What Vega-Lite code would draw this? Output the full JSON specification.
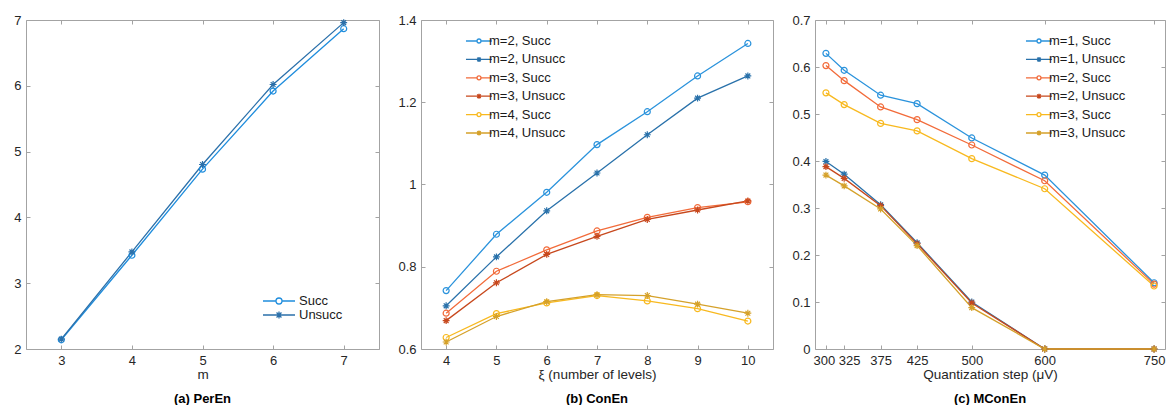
{
  "$schema": "https://vega.github.io/schema/vega-lite/v6.json",
  "background": "white",
  "padding": {"left": 13, "top": 13, "right": 0, "bottom": 0},
  "spacing": 42,
  "bounds": "flush",
  "resolve": {"scale": {"color": "independent"}, "legend": {"color": "independent"}},
  "config": {
    "font": "Liberation Sans",
    "view": {"stroke": "#a3a3a3", "strokeWidth": 1},
    "axis": {"domain": false, "grid": false, "ticks": true, "tickSize": -4, "tickColor": "#a3a3a3", "tickWidth": 1,
      "labelFontSize": 13, "labelColor": "#262626", "labelFont": "Liberation Sans", "labelFlush": false, "labelOverlap": false, "labelBound": false,
      "labelExpr": "'' + datum.value",
      "titleFontSize": 13.5, "titleColor": "#262626", "titleFontWeight": "normal", "titleFont": "Liberation Sans"},
    "axisX": {"labelPadding": 9, "titlePadding": 0},
    "axisY": {"labelPadding": 9},
    "legend": {"labelFontSize": 13, "labelColor": "#1a1a1a", "labelFont": "Liberation Sans", "symbolSize": 144, "symbolStrokeWidth": 1.3, "padding": 0, "labelOffset": 3, "rowPadding": 4.4},
    "title": {"fontSize": 13, "fontWeight": "bold", "color": "#000000", "font": "Liberation Sans", "offset": 12}
  },
  "datasets": {
    "a": [
      {"series": "Succ", "x": 3, "y": 2.14}, {"series": "Succ", "x": 4, "y": 3.425}, {"series": "Succ", "x": 5, "y": 4.733}, {"series": "Succ", "x": 6, "y": 5.92}, {"series": "Succ", "x": 7, "y": 6.868},
      {"series": "Unsucc", "x": 3, "y": 2.15}, {"series": "Unsucc", "x": 4, "y": 3.476}, {"series": "Unsucc", "x": 5, "y": 4.804}, {"series": "Unsucc", "x": 6, "y": 6.02}, {"series": "Unsucc", "x": 7, "y": 6.96}
    ],
    "b": [
      {"series": "m=2, Succ", "x": 4, "y": 0.742}, {"series": "m=2, Succ", "x": 5, "y": 0.879}, {"series": "m=2, Succ", "x": 6, "y": 0.981}, {"series": "m=2, Succ", "x": 7, "y": 1.097}, {"series": "m=2, Succ", "x": 8, "y": 1.177}, {"series": "m=2, Succ", "x": 9, "y": 1.264}, {"series": "m=2, Succ", "x": 10, "y": 1.343},
      {"series": "m=2, Unsucc", "x": 4, "y": 0.705}, {"series": "m=2, Unsucc", "x": 5, "y": 0.824}, {"series": "m=2, Unsucc", "x": 6, "y": 0.936}, {"series": "m=2, Unsucc", "x": 7, "y": 1.028}, {"series": "m=2, Unsucc", "x": 8, "y": 1.121}, {"series": "m=2, Unsucc", "x": 9, "y": 1.21}, {"series": "m=2, Unsucc", "x": 10, "y": 1.264},
      {"series": "m=3, Succ", "x": 4, "y": 0.687}, {"series": "m=3, Succ", "x": 5, "y": 0.789}, {"series": "m=3, Succ", "x": 6, "y": 0.841}, {"series": "m=3, Succ", "x": 7, "y": 0.887}, {"series": "m=3, Succ", "x": 8, "y": 0.92}, {"series": "m=3, Succ", "x": 9, "y": 0.944}, {"series": "m=3, Succ", "x": 10, "y": 0.958},
      {"series": "m=3, Unsucc", "x": 4, "y": 0.669}, {"series": "m=3, Unsucc", "x": 5, "y": 0.761}, {"series": "m=3, Unsucc", "x": 6, "y": 0.83}, {"series": "m=3, Unsucc", "x": 7, "y": 0.874}, {"series": "m=3, Unsucc", "x": 8, "y": 0.915}, {"series": "m=3, Unsucc", "x": 9, "y": 0.938}, {"series": "m=3, Unsucc", "x": 10, "y": 0.96},
      {"series": "m=4, Succ", "x": 4, "y": 0.628}, {"series": "m=4, Succ", "x": 5, "y": 0.686}, {"series": "m=4, Succ", "x": 6, "y": 0.712}, {"series": "m=4, Succ", "x": 7, "y": 0.73}, {"series": "m=4, Succ", "x": 8, "y": 0.717}, {"series": "m=4, Succ", "x": 9, "y": 0.698}, {"series": "m=4, Succ", "x": 10, "y": 0.668},
      {"series": "m=4, Unsucc", "x": 4, "y": 0.617}, {"series": "m=4, Unsucc", "x": 5, "y": 0.679}, {"series": "m=4, Unsucc", "x": 6, "y": 0.715}, {"series": "m=4, Unsucc", "x": 7, "y": 0.732}, {"series": "m=4, Unsucc", "x": 8, "y": 0.73}, {"series": "m=4, Unsucc", "x": 9, "y": 0.709}, {"series": "m=4, Unsucc", "x": 10, "y": 0.687}
    ],
    "c": [
      {"series": "m=1, Succ", "x": 300, "y": 0.629}, {"series": "m=1, Succ", "x": 325, "y": 0.593}, {"series": "m=1, Succ", "x": 375, "y": 0.54}, {"series": "m=1, Succ", "x": 425, "y": 0.522}, {"series": "m=1, Succ", "x": 500, "y": 0.449}, {"series": "m=1, Succ", "x": 600, "y": 0.37}, {"series": "m=1, Succ", "x": 750, "y": 0.141},
      {"series": "m=1, Unsucc", "x": 300, "y": 0.399}, {"series": "m=1, Unsucc", "x": 325, "y": 0.372}, {"series": "m=1, Unsucc", "x": 375, "y": 0.307}, {"series": "m=1, Unsucc", "x": 425, "y": 0.226}, {"series": "m=1, Unsucc", "x": 500, "y": 0.1}, {"series": "m=1, Unsucc", "x": 600, "y": 0}, {"series": "m=1, Unsucc", "x": 750, "y": 0},
      {"series": "m=2, Succ", "x": 300, "y": 0.603}, {"series": "m=2, Succ", "x": 325, "y": 0.571}, {"series": "m=2, Succ", "x": 375, "y": 0.515}, {"series": "m=2, Succ", "x": 425, "y": 0.488}, {"series": "m=2, Succ", "x": 500, "y": 0.434}, {"series": "m=2, Succ", "x": 600, "y": 0.358}, {"series": "m=2, Succ", "x": 750, "y": 0.138},
      {"series": "m=2, Unsucc", "x": 300, "y": 0.388}, {"series": "m=2, Unsucc", "x": 325, "y": 0.363}, {"series": "m=2, Unsucc", "x": 375, "y": 0.305}, {"series": "m=2, Unsucc", "x": 425, "y": 0.224}, {"series": "m=2, Unsucc", "x": 500, "y": 0.098}, {"series": "m=2, Unsucc", "x": 600, "y": 0}, {"series": "m=2, Unsucc", "x": 750, "y": 0},
      {"series": "m=3, Succ", "x": 300, "y": 0.545}, {"series": "m=3, Succ", "x": 325, "y": 0.52}, {"series": "m=3, Succ", "x": 375, "y": 0.48}, {"series": "m=3, Succ", "x": 425, "y": 0.464}, {"series": "m=3, Succ", "x": 500, "y": 0.405}, {"series": "m=3, Succ", "x": 600, "y": 0.341}, {"series": "m=3, Succ", "x": 750, "y": 0.134},
      {"series": "m=3, Unsucc", "x": 300, "y": 0.37}, {"series": "m=3, Unsucc", "x": 325, "y": 0.347}, {"series": "m=3, Unsucc", "x": 375, "y": 0.298}, {"series": "m=3, Unsucc", "x": 425, "y": 0.22}, {"series": "m=3, Unsucc", "x": 500, "y": 0.088}, {"series": "m=3, Unsucc", "x": 600, "y": 0}, {"series": "m=3, Unsucc", "x": 750, "y": 0}
    ]
  },
  "hconcat": [
    {
      "width": 353, "height": 329,
      "data": {"name": "a"},
      "title": {"text": "(a) PerEn", "orient": "bottom"},
      "resolve": {"axis": {"x": "independent", "y": "independent"}},
      "layer": [
        {
          "mark": {"type": "line", "strokeWidth": 1.3},
          "encoding": {
            "x": {"field": "x", "type": "quantitative", "scale": {"domain": [2.5, 7.5], "nice": false, "zero": false}, "axis": {"values": [3, 4, 5, 6, 7], "title": "m", "orient": "bottom"}},
            "y": {"field": "y", "type": "quantitative", "scale": {"domain": [2, 7], "nice": false, "zero": false}, "axis": {"values": [2, 3, 4, 5, 6, 7], "title": null, "orient": "left"}},
            "color": {"field": "series", "type": "nominal", "scale": {"domain": ["Succ", "Unsucc"], "range": ["#1f8ddd", "#2b70aa"]},
              "legend": {"title": null, "orient": "none", "legendX": 246, "legendY": 274, "rowPadding": -0.6, "labelOffset": 13,
                "encode": {"symbols": {"update": {"fill": {"value": "transparent"}, "shape": {"signal": "indexof(datum.value, 'Unsucc') >= 0 ? 'M-2.67,0H2.67M0,-0.58V0.58M-0.41,-0.41L0.41,0.41M-0.41,0.41L0.41,-0.41' : 'M-2.67,0H-0.5M0.5,0H2.67M0.5,0A0.5,0.5,0,1,1,-0.5,0A0.5,0.5,0,1,1,0.5,0'"}}}}}}
          }
        },
        {
          "transform": [{"filter": "indexof(datum.series, 'Unsucc') < 0"}],
          "mark": {"type": "point", "shape": "circle", "filled": false, "size": 36, "strokeWidth": 1.2, "opacity": 1},
          "encoding": {
            "x": {"field": "x", "type": "quantitative", "axis": {"values": [3, 4, 5, 6, 7], "title": null, "labels": false, "orient": "top"}},
            "y": {"field": "y", "type": "quantitative", "axis": {"values": [2, 3, 4, 5, 6, 7], "title": null, "labels": false, "orient": "right"}},
            "color": {"field": "series", "type": "nominal"}
          }
        },
        {
          "transform": [{"filter": "indexof(datum.series, 'Unsucc') >= 0"}],
          "mark": {"type": "point", "shape": "M-1.15,0H1.15M0,-1.15V1.15M-0.8,-0.8L0.8,0.8M-0.8,0.8L0.8,-0.8", "filled": false, "size": 36, "strokeWidth": 1.2, "opacity": 1},
          "encoding": {
            "x": {"field": "x", "type": "quantitative", "axis": null},
            "y": {"field": "y", "type": "quantitative", "axis": null},
            "color": {"field": "series", "type": "nominal"}
          }
        }
      ]
    },
    {
      "width": 352, "height": 329,
      "data": {"name": "b"},
      "title": {"text": "(b) ConEn", "orient": "bottom"},
      "resolve": {"axis": {"x": "independent", "y": "independent"}},
      "layer": [
        {
          "mark": {"type": "line", "strokeWidth": 1.3},
          "encoding": {
            "x": {"field": "x", "type": "quantitative", "scale": {"domain": [3.5, 10.5], "nice": false, "zero": false}, "axis": {"values": [4, 5, 6, 7, 8, 9, 10], "title": "ξ (number of levels)", "orient": "bottom"}},
            "y": {"field": "y", "type": "quantitative", "scale": {"domain": [0.6, 1.4], "nice": false, "zero": false}, "axis": {"values": [0.6, 0.8, 1, 1.2, 1.4], "title": null, "orient": "left"}},
            "color": {"field": "series", "type": "nominal", "scale": {"domain": ["m=2, Succ", "m=2, Unsucc", "m=3, Succ", "m=3, Unsucc", "m=4, Succ", "m=4, Unsucc"], "range": ["#2b93dc", "#2971aa", "#f26b3a", "#c7481d", "#f8b91f", "#d5a12a"]},
              "legend": {"title": null, "orient": "none", "legendX": 51, "legendY": 14,
                "encode": {"symbols": {"update": {"fill": {"value": "transparent"}, "shape": {"signal": "indexof(datum.value, 'Unsucc') >= 0 ? 'M-2.17,0H2.17M0,-0.42V0.42M-0.3,-0.3L0.3,0.3M-0.3,0.3L0.3,-0.3' : 'M-2.17,0H-0.33M0.33,0H2.17M0.33,0A0.33,0.33,0,1,1,-0.33,0A0.33,0.33,0,1,1,0.33,0'"}}}}}}
          }
        },
        {
          "transform": [{"filter": "indexof(datum.series, 'Unsucc') < 0"}],
          "mark": {"type": "point", "shape": "circle", "filled": false, "size": 36, "strokeWidth": 1.2, "opacity": 1},
          "encoding": {
            "x": {"field": "x", "type": "quantitative", "axis": {"values": [4, 5, 6, 7, 8, 9, 10], "title": null, "labels": false, "orient": "top"}},
            "y": {"field": "y", "type": "quantitative", "axis": {"values": [0.6, 0.8, 1, 1.2, 1.4], "title": null, "labels": false, "orient": "right"}},
            "color": {"field": "series", "type": "nominal"}
          }
        },
        {
          "transform": [{"filter": "indexof(datum.series, 'Unsucc') >= 0"}],
          "mark": {"type": "point", "shape": "M-1.15,0H1.15M0,-1.15V1.15M-0.8,-0.8L0.8,0.8M-0.8,0.8L0.8,-0.8", "filled": false, "size": 36, "strokeWidth": 1.2, "opacity": 1},
          "encoding": {
            "x": {"field": "x", "type": "quantitative", "axis": null},
            "y": {"field": "y", "type": "quantitative", "axis": null},
            "color": {"field": "series", "type": "nominal"}
          }
        }
      ]
    },
    {
      "width": 350, "height": 329,
      "data": {"name": "c"},
      "title": {"text": "(c) MConEn", "orient": "bottom"},
      "resolve": {"axis": {"x": "independent", "y": "independent"}},
      "layer": [
        {
          "mark": {"type": "line", "strokeWidth": 1.3},
          "encoding": {
            "x": {"field": "x", "type": "quantitative", "scale": {"domain": [285, 765], "nice": false, "zero": false},
              "axis": {"values": [300, 325, 375, 425, 500, 600, 750], "title": "Quantization step (μV)", "orient": "bottom",
                "labelOffset": {"condition": [{"test": "datum.value === 325", "value": 5}, {"test": "datum.value === 300", "value": -2}], "value": 0}}},
            "y": {"field": "y", "type": "quantitative", "scale": {"domain": [0, 0.7], "nice": false, "zero": false}, "axis": {"values": [0, 0.1, 0.2, 0.3, 0.4, 0.5, 0.6, 0.7], "title": null, "orient": "left"}},
            "color": {"field": "series", "type": "nominal", "scale": {"domain": ["m=1, Succ", "m=1, Unsucc", "m=2, Succ", "m=2, Unsucc", "m=3, Succ", "m=3, Unsucc"], "range": ["#2b93dc", "#2971aa", "#f26b3a", "#c7481d", "#f8b91f", "#d5a12a"]},
              "legend": {"title": null, "orient": "none", "legendX": 217, "legendY": 14,
                "encode": {"symbols": {"update": {"fill": {"value": "transparent"}, "shape": {"signal": "indexof(datum.value, 'Unsucc') >= 0 ? 'M-2.17,0H2.17M0,-0.42V0.42M-0.3,-0.3L0.3,0.3M-0.3,0.3L0.3,-0.3' : 'M-2.17,0H-0.33M0.33,0H2.17M0.33,0A0.33,0.33,0,1,1,-0.33,0A0.33,0.33,0,1,1,0.33,0'"}}}}}}
          }
        },
        {
          "transform": [{"filter": "indexof(datum.series, 'Unsucc') < 0"}],
          "mark": {"type": "point", "shape": "circle", "filled": false, "size": 36, "strokeWidth": 1.2, "opacity": 1},
          "encoding": {
            "x": {"field": "x", "type": "quantitative", "axis": {"values": [300, 325, 375, 425, 500, 600, 750], "title": null, "labels": false, "orient": "top"}},
            "y": {"field": "y", "type": "quantitative", "axis": {"values": [0, 0.1, 0.2, 0.3, 0.4, 0.5, 0.6, 0.7], "title": null, "labels": false, "orient": "right"}},
            "color": {"field": "series", "type": "nominal"}
          }
        },
        {
          "transform": [{"filter": "indexof(datum.series, 'Unsucc') >= 0"}],
          "mark": {"type": "point", "shape": "M-1.15,0H1.15M0,-1.15V1.15M-0.8,-0.8L0.8,0.8M-0.8,0.8L0.8,-0.8", "filled": false, "size": 36, "strokeWidth": 1.2, "opacity": 1},
          "encoding": {
            "x": {"field": "x", "type": "quantitative", "axis": null},
            "y": {"field": "y", "type": "quantitative", "axis": null},
            "color": {"field": "series", "type": "nominal"}
          }
        }
      ]
    }
  ]
}
